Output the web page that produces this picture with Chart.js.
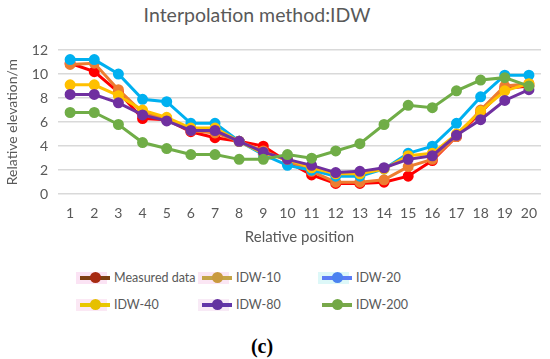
<!DOCTYPE html>
<html>
<head>
<meta charset="utf-8">
<script src="https://cdn.jsdelivr.net/npm/chart.js@4"></script>
<style>
  html, body { margin: 0; padding: 0; background: #fff; }
  body { width: 550px; height: 359px; position: relative; overflow: hidden; font-family: Lato, "Open Sans", sans-serif; }
  #title { position: absolute; left: 0; top: 3px; width: 514px; text-align: center; font-size: 19.5px; color: #595959; }
  #wrap { position: absolute; left: 0; top: 0; width: 550px; height: 253px; }
  .leg { position: absolute; font-size: 12.5px; color: #595959; height: 18px; line-height: 18px; white-space: nowrap; }
  .leg .nm { position: relative; z-index: 2; }
  .leg .mk { position: absolute; left: -38px; top: 0; width: 38px; height: 18px; z-index: 1; }
  .leg .mk s { position: absolute; left: 0; width: 31px; top: 3px; height: 12px; }
  .leg .mk i { position: absolute; left: 4px; width: 30px; top: 7px; height: 4px; }
  .leg .mk b { position: absolute; left: 14px; top: 3px; width: 11px; height: 11px; border-radius: 50%; }
  #cap { position: absolute; left: 0; width: 524px; top: 335px; text-align: center; font: bold 20px "Liberation Serif", "DejaVu Serif", serif; color: #000; }
</style>
</head>
<body>
<div id="title">Interpolation method:IDW</div>
<div id="wrap"><canvas id="c"></canvas></div>
<div id="legend"></div>
<div id="cap">(c)</div>
<script>
const positions = ['1','2','3','4','5','6','7','8','9','10','11','12','13','14','15','16','17','18','19','20'];
const yTicks = [0, 2, 4, 6, 8, 10, 12];

const measured = [10.9, 10.2, 8.5, 6.3, 6.2, 5.2, 4.7, 4.4, 4.0, 2.7, 1.6, 0.9, 0.9, 1.0, 1.5, 2.8, 4.8, 6.8, 8.8, 9.0];
const idw10    = [10.8, 10.9, 8.7, 6.8, 6.3, 5.3, 5.1, 4.4, 3.6, 2.8, 1.9, 1.0, 1.0, 1.2, 2.3, 2.9, 4.8, 7.0, 9.0, 9.2];
const idw20    = [11.2, 11.2, 10.0, 7.9, 7.7, 5.9, 5.9, 4.4, 3.3, 2.4, 2.0, 1.5, 1.5, 2.1, 3.4, 4.0, 5.9, 8.1, 9.9, 9.9];
const idw40    = [9.1, 9.1, 8.2, 7.0, 6.4, 5.5, 5.5, 4.4, 3.4, 2.9, 2.2, 1.7, 1.7, 2.1, 3.2, 3.4, 5.0, 6.9, 8.6, 9.2];
const idw80    = [8.3, 8.3, 7.6, 6.6, 6.1, 5.3, 5.3, 4.4, 3.5, 2.9, 2.4, 1.8, 1.9, 2.2, 2.9, 3.2, 4.9, 6.2, 7.8, 8.7];
const idw200   = [6.8, 6.8, 5.8, 4.3, 3.8, 3.3, 3.3, 2.9, 2.9, 3.3, 3.0, 3.6, 4.2, 5.8, 7.4, 7.2, 8.6, 9.5, 9.7, 9.0];

const seriesNames = ['Measured data', 'IDW-10', 'IDW-20', 'IDW-40', 'IDW-80', 'IDW-200'];
const seriesData = [measured, idw10, idw20, idw40, idw80, idw200];
const lineColors = ['#FF0000', '#ED7D31', '#00B0F0', '#FFC000', '#7030A0', '#70AD47'];

// legend swatches look different from the plotted lines in the original
const legendLine = ['#7E3F12', '#C4A448', '#5B7CF5', '#E8C800', '#6236A8', '#78A84A'];
const legendDot  = ['#A62A12', '#C99A3E', '#4A82F0', '#E6C000', '#6232A0', '#72A845'];
const legendBg   = ['#FBE3F4', '#FBE6F4', '#DDF8F8', '#FBE8F4', '#F8EAF6', 'transparent'];
const legendPos  = [[114, 269], [236, 269], [356, 269], [114, 296], [236, 296], [356, 296]];

const grey = '#595959';

new Chart(document.getElementById('c'), {
  type: 'line',
  data: {
    labels: positions,
    datasets: seriesData.map((d, i) => ({
      label: seriesNames[i],
      data: d,
      borderColor: lineColors[i],
      backgroundColor: lineColors[i],
      pointBackgroundColor: lineColors[i],
      pointBorderColor: lineColors[i],
      pointRadius: 4,
      borderWidth: 3,
      tension: 0,
      order: seriesData.length - i
    }))
  },
  options: {
    responsive: true,
    maintainAspectRatio: false,
    animation: false,
    layout: { padding: { top: 50, right: 9, left: 0, bottom: 3 } },
    plugins: { legend: { display: false }, tooltip: { enabled: false } },
    scales: {
      x: {
        offset: true,
        grid: { display: false },
        border: { display: false },
        ticks: { color: grey, font: { family: 'Lato', size: 14 }, padding: 3, maxRotation: 0 },
        title: { display: true, text: 'Relative position', color: grey, font: { family: 'Lato', size: 15 }, padding: { top: 3 } }
      },
      y: {
        min: 0, max: 12,
        afterBuildTicks: s => { s.ticks = yTicks.map(v => ({ value: v })); },
        grid: { color: '#D9D9D9', lineWidth: 1.5, drawTicks: false },
        border: { display: false },
        ticks: { color: grey, font: { family: 'Lato', size: 14 }, padding: 10 },
        title: { display: true, text: 'Relative elevation/m', color: grey, font: { family: 'Lato', size: 14 }, padding: { bottom: 1 } }
      }
    }
  }
});

const legend = document.getElementById('legend');
legend.innerHTML = seriesNames.map((n, i) => `
  <div class="leg" style="left:${legendPos[i][0]}px; top:${legendPos[i][1]}px;">
    <span class="mk"><s style="background:${legendBg[i]}"></s><i style="background:${legendLine[i]}"></i><b style="background:${legendDot[i]}"></b></span><span class="nm">${n}</span>
  </div>`).join('');
</script>
</body>
</html>
